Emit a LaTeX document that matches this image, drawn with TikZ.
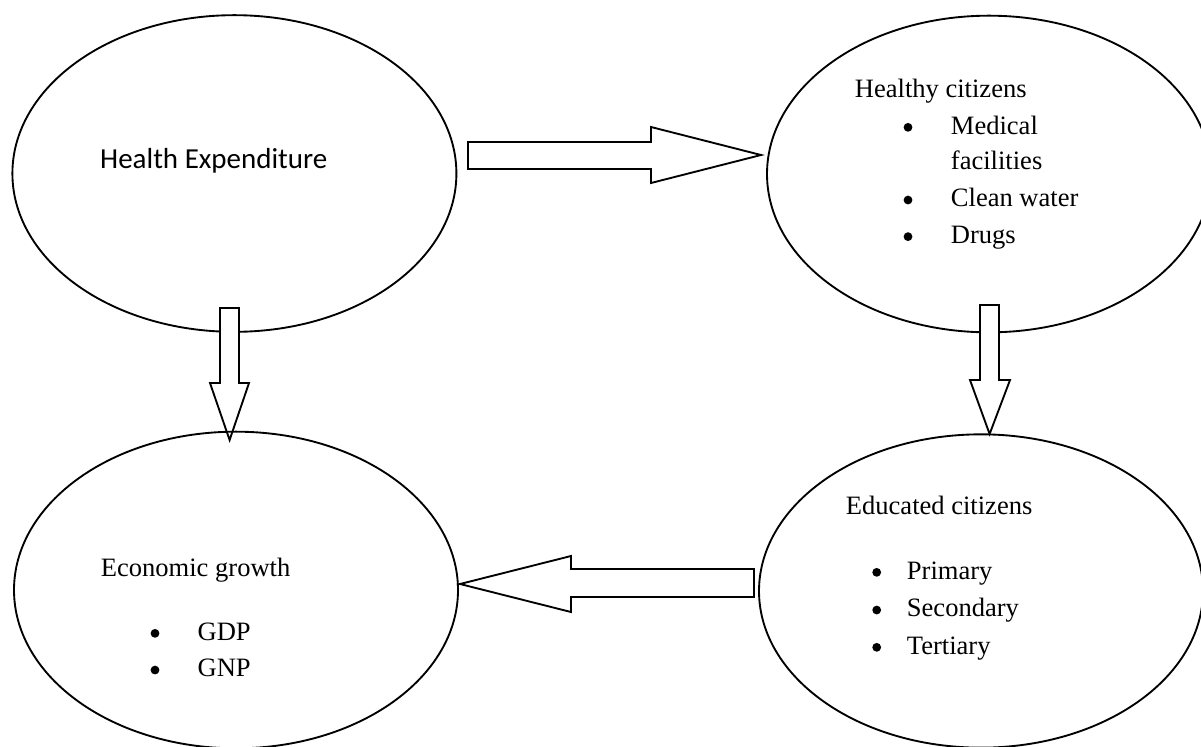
\documentclass[tikz,border=0pt]{standalone}
\usepackage{fontspec}
\setmainfont{Liberation Serif}
\newfontfamily\calibfont{Carlito}
\usetikzlibrary{shapes.geometric}
\begin{document}
\begin{tikzpicture}[x=0.75pt,y=-0.75pt,line width=1.4pt,
  bubble/.style={draw,ellipse,inner sep=0pt,minimum width=333pt,minimum height=237.5pt},
  blockarrow/.style={draw,fill=white,line join=miter},
  txt/.style={anchor=base west,inner sep=0pt,font=\fontsize{19.9}{24}\selectfont},
  bul/.style={circle,fill=black,draw=none,inner sep=0pt,minimum size=6.6pt,yshift=5pt},
  sanstxt/.style={anchor=base west,inner sep=0pt,font=\calibfont\fontsize{21.75}{26}\selectfont}]
\useasboundingbox (0,0) rectangle (1201,746);
\clip (0,0) rectangle (1201,746);
% top ellipses
\node[bubble] (he) at (234.4,173.5) {};
\node[bubble] (hc) at (989,174) {};
% block arrows
\draw[blockarrow] (468,142) -- (651,142) -- (651,127) -- (761,155) -- (651,183) -- (651,169) -- (468,169) -- cycle;
\draw[blockarrow] (220,308) -- (239,308) -- (239,383) -- (249,383) -- (229.6,440) -- (210,383) -- (220,383) -- cycle;
\draw[blockarrow] (980,305) -- (999,305) -- (999,380) -- (1010,380) -- (989.6,434) -- (970,380) -- (980,380) -- cycle;
\draw[blockarrow] (754,569) -- (571,569) -- (571,556) -- (460,584) -- (571,612) -- (571,597) -- (754,597) -- cycle;
% bottom ellipses
\node[bubble] (eg) at (236,590) {};
\node[bubble,minimum height=235pt] (ec) at (981,591) {};
% texts
\node[sanstxt] (t1) at (99.3,168.3) {Health Expenditure};
\node[txt] (t2) at (854,97.3) {Healthy citizens};
\node[bul] (b21) at (908,134) {};
\node[txt] (t21) at (950,134) {Medical};
\node[txt] (t22) at (950,169.3) {facilities};
\node[bul] (b23) at (908,206.7) {};
\node[txt] (t23) at (950,206.7) {Clean water};
\node[bul] (b24) at (908,243.3) {};
\node[txt] (t24) at (950,243.3) {Drugs};
\node[txt] (t3) at (100,576) {Economic growth};
\node[bul] (b31) at (155,640) {};
\node[txt] (t31) at (196.7,640) {GDP};
\node[bul] (b32) at (155,676.7) {};
\node[txt] (t32) at (196.7,676.7) {GNP};
\node[txt] (t4) at (845,514.7) {Educated citizens};
\node[bul] (b41) at (876.7,579) {};
\node[txt] (t41) at (906,579) {Primary};
\node[bul] (b42) at (876.7,616.7) {};
\node[txt] (t42) at (906,616.7) {Secondary};
\node[bul] (b43) at (876.7,654) {};
\node[txt] (t43) at (906,654) {Tertiary};
\end{tikzpicture}
\end{document}
